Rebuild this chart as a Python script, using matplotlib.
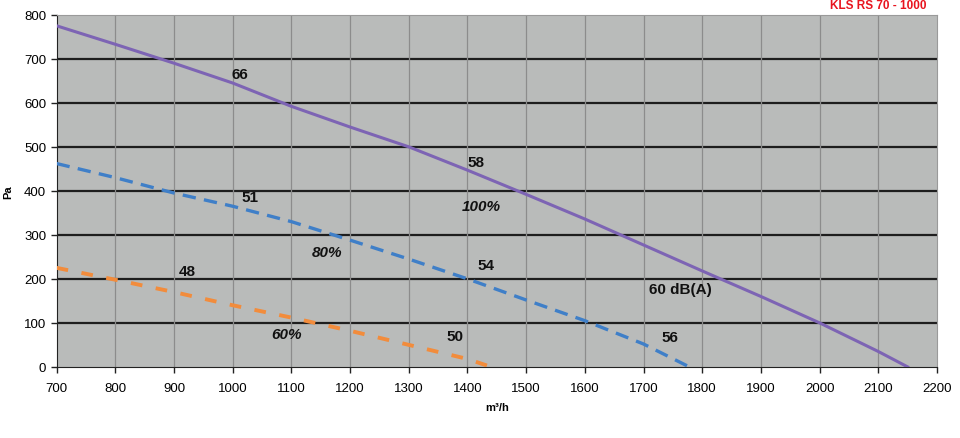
'''
fan curve chart: pressure vs airflow for three speed settings
'''
import numpy as np
import matplotlib.pyplot as plt

plt.rcParams['font.family'] = ['Liberation Sans', 'DejaVu Sans']

# 100% speed
flow_100 = [700, 800, 900, 1000, 1100, 1200, 1300, 1400, 1500, 1600, 1700, 1800, 1900, 2000, 2100, 2150]
pa_100 = [775, 733, 690, 645, 592, 545, 500, 447, 392, 336, 277, 218, 160, 100, 35, 0]

# 80% speed
flow_80 = [700, 800, 900, 1000, 1100, 1200, 1300, 1400, 1500, 1600, 1700, 1778]
pa_80 = [462, 430, 395, 365, 330, 288, 245, 200, 152, 105, 52, 0]

# 60% speed
flow_60 = [700, 800, 900, 1000, 1100, 1200, 1300, 1400, 1440]
pa_60 = [225, 198, 170, 140, 112, 82, 50, 18, 0]

# sound level labels (x, y, text, italic)
labels = [
    (1012, 666, '66', False),
    (1414, 466, '58', False),
    (1424, 366, '100%', True),
    (1029, 386, '51', False),
    (1160, 261, '80%', True),
    (1431, 232, '54', False),
    (923, 218, '48', False),
    (1092, 75, '60%', True),
    (1378, 70, '50', False),
    (1745, 68, '56', False),
    (1762, 177, '60 dB(A)', False),
]

fig = plt.figure(figsize=(9.6, 4.39), dpi=100)
ax = fig.add_axes([0.059, 0.162, 0.917, 0.802])
ax.set_facecolor('#b9bbba')

ax.set_xlim(700, 2200)
ax.set_ylim(0, 800)
ax.set_xticks(np.arange(700, 2201, 100))
ax.set_yticks(np.arange(0, 801, 100))

# grid: dark horizontal, light vertical
for y in range(100, 800, 100):
    ax.axhline(y, color='#1e1e1e', lw=1.6, zorder=1)
for x in range(800, 2200, 100):
    ax.axvline(x, color='#8c8c8c', lw=0.9, zorder=1)

ax.plot(flow_100, pa_100, color='#7d64b4', lw=2.2, zorder=3)
ax.plot(flow_80, pa_80, color='#3f7fc8', lw=2.4, dashes=(4, 2.5), zorder=3)
ax.plot(flow_60, pa_60, color='#f28c3c', lw=2.8, dashes=(3, 3.5), zorder=3)

for x, y, txt, it in labels:
    ax.text(x, y, txt, ha='center', va='center', fontsize=11, fontweight='bold',
            style='italic' if it else 'normal', color='#111111', zorder=4)

for side in ['top', 'right']:
    ax.spines[side].set_color('#9a9a9a')
ax.spines['left'].set_color('#222222')
ax.spines['bottom'].set_color('#222222')
ax.tick_params(direction='out', length=4, width=1, color='#222222', labelsize=9.5)
ax.tick_params(axis='x', pad=7)

ax.set_xlabel('m³/h', fontsize=8, fontweight='bold', labelpad=6)
ax.set_ylabel('Pa', fontsize=8, fontweight='bold', labelpad=8)

# model title in red, top right
fig.text(0.965, 0.999, 'KLS RS 70 - 1000', color='#e8141e', fontsize=8.5,
         fontweight='bold', ha='right', va='top')

fig.savefig('out.png', dpi=100)
